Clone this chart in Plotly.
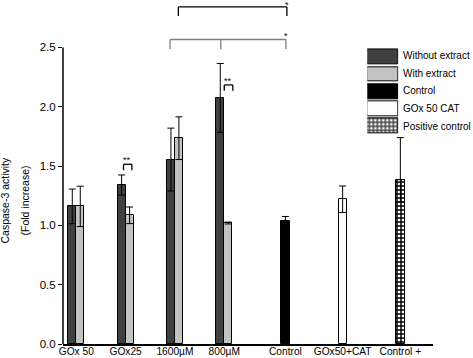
import plotly.graph_objects as go

# ---- data ----
pair_labels = ["GOx 50", "GOx25", "1600\u00b5M", "800\u00b5M"]
without_extract = [1.16, 1.34, 1.555, 2.075]
without_extract_err = [0.146, 0.085, 0.265, 0.29]
with_extract = [1.16, 1.085, 1.735, 1.02]
with_extract_err = [0.17, 0.07, 0.18, 0.008]

single_labels = ["Control", "GOx50+CAT", "Control +"]
control_val = [1.04]
control_err = [0.035]
cat_val = [1.22]
cat_err = [0.112]
pos_val = [1.386]
pos_err_plus = [0.354]
pos_err_minus = [0.19]

tick_labels = pair_labels + single_labels
x_positions = [1, 2, 3, 4, 5.24, 6.4, 7.57]
legend_names = ["Without extract", "With extract", "Control", "GOx 50 CAT", "Positive control"]

DARK = "#404040"
LIGHT = "#c3c3c3"
BLACK = "#000000"
FONT = "Liberation Sans, Arial, sans-serif"
BW = 0.162  # bar width (axis units)

W, H = 473, 358
L, R, T, B = 62.7, 40, 0, 14.3
pw, ph = W - L - R, H - T - B

def px_x(p):
    return (p - L) / pw

def px_y(p):
    return (H - B - p) / ph

PATTERN = dict(shape="+", size=4, solidity=0.6, fgcolor=BLACK, bgcolor="white", fgopacity=1)

fig = go.Figure()

def err(arr, minus=None):
    d = dict(type="data", array=arr, visible=True, color=BLACK, thickness=1, width=3.5)
    if minus is not None:
        d["symmetric"] = False
        d["arrayminus"] = minus
    return d

pair_x = x_positions[:4]
fig.add_trace(go.Bar(x=pair_x, y=without_extract, width=BW, offset=-BW,
                     marker=dict(color=DARK, line=dict(color=BLACK, width=1)),
                     error_y=err(without_extract_err), showlegend=False))
fig.add_trace(go.Bar(x=pair_x, y=with_extract, width=BW, offset=0,
                     marker=dict(color=LIGHT, line=dict(color=BLACK, width=1)),
                     error_y=err(with_extract_err), showlegend=False))
fig.add_trace(go.Bar(x=[x_positions[4]], y=control_val, width=0.19, offset=-0.095,
                     marker=dict(color=BLACK, line=dict(color=BLACK, width=1)),
                     error_y=err(control_err), showlegend=False))
fig.add_trace(go.Bar(x=[x_positions[5]], y=cat_val, width=BW, offset=-BW / 2,
                     marker=dict(color="white", line=dict(color=BLACK, width=1)),
                     error_y=err(cat_err), showlegend=False))
fig.add_trace(go.Bar(x=[x_positions[6]], y=pos_val, width=0.17, offset=-0.085,
                     marker=dict(color="white", line=dict(color=BLACK, width=1), pattern=PATTERN),
                     error_y=err(pos_err_plus, pos_err_minus), showlegend=False))

# ---- legend drawn with bars on an inset axis ----
fig.add_trace(go.Bar(
    y=[0, 1, 2, 3, 4], x=[1] * 5, orientation="h", width=0.86,
    xaxis="x2", yaxis="y2", showlegend=False, hoverinfo="skip",
    marker=dict(color=[DARK, LIGHT, BLACK, "white", "white"],
                line=dict(color=BLACK, width=1),
                pattern=dict(shape=["", "", "", "", "+"], size=4, solidity=0.6,
                             fgcolor=BLACK, bgcolor="white", fgopacity=1)),
))

annotations = []
row_centers = [55.8, 73.5, 90.5, 108.0, 126.5]
for name, yc in zip(legend_names, row_centers):
    annotations.append(dict(x=px_x(401), y=px_y(yc), xref="paper", yref="paper", text=name,
                            showarrow=False, xanchor="left", yanchor="middle",
                            font=dict(family=FONT, size=10, color=BLACK)))

# axis title (two lines)
for text, xp in (("Caspase-3 activity", 5), ("(Fold increase)", 25)):
    annotations.append(dict(x=px_x(xp), y=px_y(200), xref="paper", yref="paper", text=text,
                            showarrow=False, textangle=-90, xanchor="center", yanchor="middle",
                            font=dict(family=FONT, size=10.5, color=BLACK)))

shapes = []
# y axis line (0 to 2.5)
shapes.append(dict(type="line", xref="paper", yref="y", x0=0, x1=0, y0=0, y1=2.5,
                   line=dict(color=BLACK, width=1.5)))

def bracket(xs, y, drop, color, star, sy, size=9):
    shapes.append(dict(type="line", xref="x", yref="y", x0=xs[0], x1=xs[-1], y0=y, y1=y,
                       line=dict(color=color, width=1.3)))
    for xv in xs:
        shapes.append(dict(type="line", xref="x", yref="y", x0=xv, x1=xv, y0=y, y1=y - drop,
                           line=dict(color=color, width=1.3)))
    annotations.append(dict(x=star[0], y=sy, xref="x", yref="y", text=star[1], showarrow=False,
                            font=dict(family=FONT, size=size, color=BLACK)))

bracket([3.07, 5.27], 2.842, 0.076, BLACK, (5.27, "*"), 2.862)
bracket([2.90, 3.93, 5.25], 2.567, 0.082, "#7f7f7f", (5.25, "*"), 2.595)
bracket([1.958, 2.128], 1.515, 0.05, BLACK, (2.03, "**"), 1.548)
bracket([4.0, 4.174], 2.184, 0.05, BLACK, (4.08, "**"), 2.217)

fig.update_layout(
    width=W, height=H,
    margin=dict(l=L, r=R, t=T, b=B, pad=0),
    paper_bgcolor="white", plot_bgcolor="white",
    barmode="overlay", bargap=0,
    font=dict(family=FONT, color=BLACK),
    xaxis=dict(range=[0.731, 8.232], tickvals=x_positions, ticktext=tick_labels,
               showline=True, linecolor=BLACK, linewidth=1.5, ticks="",
               showgrid=False, zeroline=False, tickfont=dict(size=10.2, family=FONT, color=BLACK),
               ticklen=0, ticklabelstandoff=-3),
    yaxis=dict(range=[0, 2.9], tickvals=[0, 0.5, 1.0, 1.5, 2.0, 2.5],
               ticktext=["0.0", "0.5", "1.0", "1.5", "2.0", "2.5"],
               showline=False, ticks="outside", ticklen=4, tickcolor=BLACK, tickwidth=1.3,
               showgrid=False, zeroline=False, tickfont=dict(size=11.5, family=FONT, color=BLACK)),
    xaxis2=dict(domain=[px_x(367.3), px_x(398.3)], range=[0, 1], visible=False, anchor="y2"),
    yaxis2=dict(domain=[px_y(134.7), px_y(48.3)], range=[4.5, -0.5], visible=False, anchor="x2"),
    shapes=shapes, annotations=annotations,
)

fig.write_html(
    "out.html",
    config={"displayModeBar": False},
    post_script="document.body.style.margin='0';document.body.style.padding='0';"
                "document.body.style.overflow='hidden';",
)
